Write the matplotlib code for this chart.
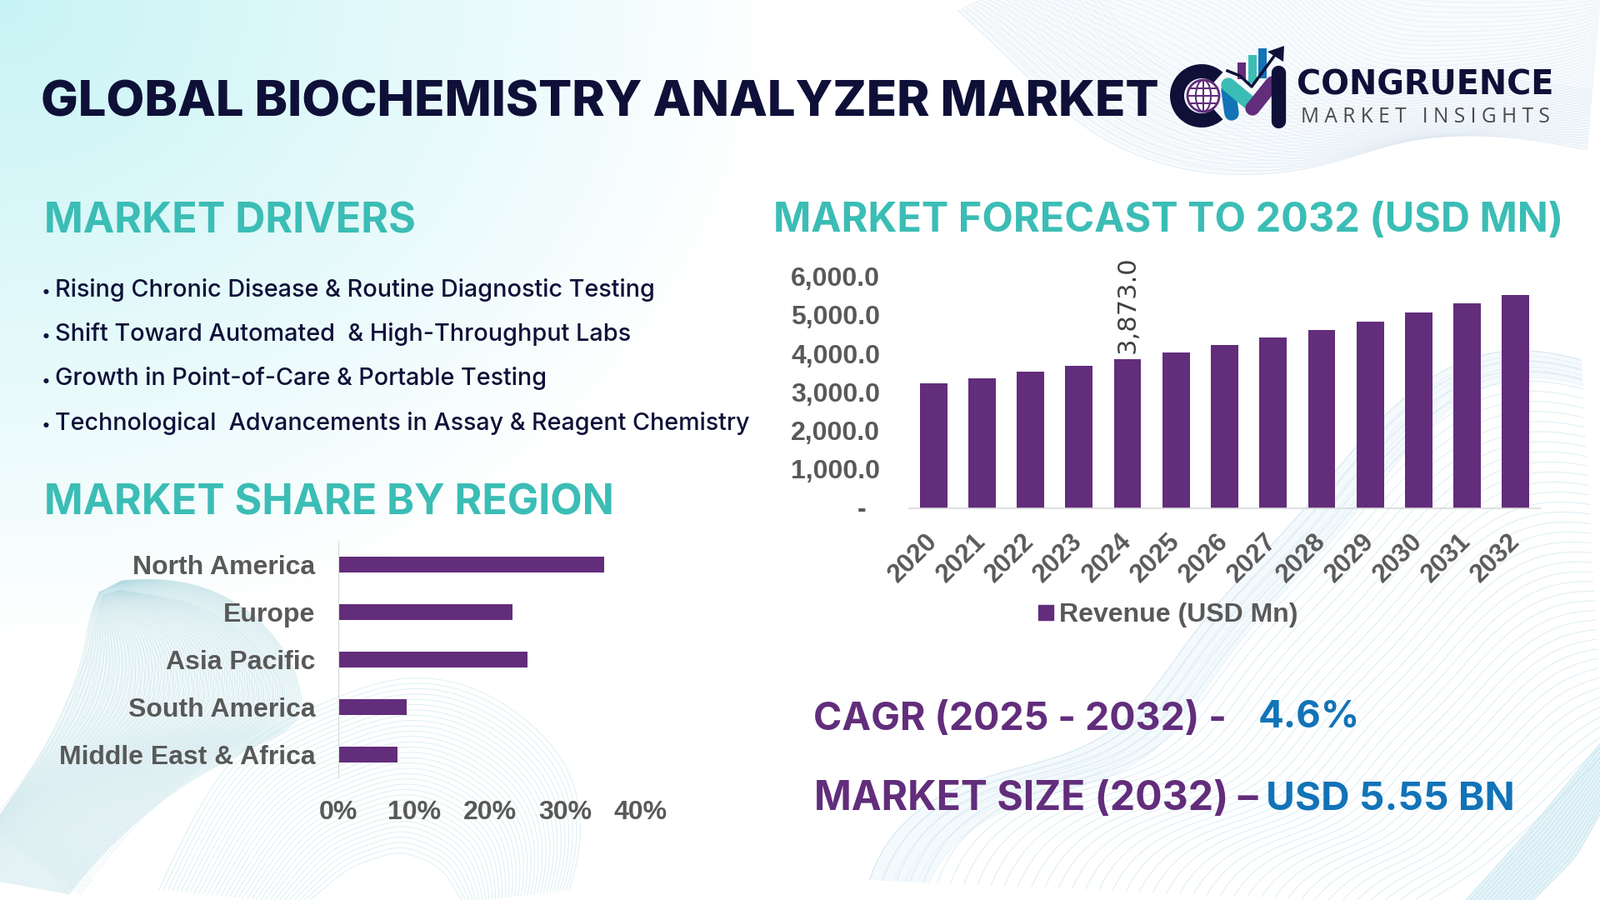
import numpy as np
import matplotlib
matplotlib.use('Agg')
from matplotlib import pyplot as plt
from matplotlib import font_manager as fm
from matplotlib.collections import LineCollection
from matplotlib.patches import Wedge, Circle, Ellipse, Polygon, Rectangle
from matplotlib.lines import Line2D
from matplotlib.transforms import ScaledTranslation

# chart data
years = ['2020', '2021', '2022', '2023', '2024', '2025', '2026',
         '2027', '2028', '2029', '2030', '2031', '2032']
revenue = [3247, 3377, 3550, 3701, 3873, 4048, 4242, 4437, 4632, 4848, 5087, 5325, 5550]
regions = ['North America', 'Europe', 'Asia Pacific', 'South America', 'Middle East & Africa']
shares = [35.2, 23.0, 25.0, 9.0, 7.8]
drivers = ['Rising Chronic Disease & Routine Diagnostic Testing',
           'Shift Toward Automated  & High-Throughput Labs',
           'Growth in Point-of-Care & Portable Testing',
           'Technological  Advancements in Assay & Reagent Chemistry']

PURPLE = '#622d7b'
TEAL = '#3bbdb5'
NAVY = '#0e1038'
BLUE = '#1273b7'
GREY = '#595959'
HEAD_FONT = ['Inter', 'DejaVu Sans']
BAR_FONT = 'Liberation Sans'

W, H = 1920, 1080
fig = plt.figure(figsize=(19.2, 10.8), dpi=100, facecolor='white')
bg = fig.add_axes([0, 0, 1, 1], zorder=0)
bg.set_xlim(0, W)
bg.set_ylim(H, 0)
bg.axis('off')


# background ------------------------------------------------------
yy, xx = np.mgrid[0:H:270j, 0:W:480j]
t = np.clip(1 - np.sqrt((xx / 930.0) ** 2 + (yy / 770.0) ** 2), 0, 1) ** 0.95
rgba = np.zeros((270, 480, 4))
rgba[..., :3] = matplotlib.colors.to_rgb('#c8f4f6')
rgba[..., 3] = t
bg.imshow(rgba, extent=(0, W, H, 0), aspect='auto', zorder=0, interpolation='bilinear')
bg.set_xlim(0, W)
bg.set_ylim(H, 0)


def smooth(pts, n=300, k=31):
    pts = np.array(pts, dtype=float)
    d = np.r_[0, np.cumsum(np.hypot(*np.diff(pts, axis=0).T))]
    s = np.linspace(0, d[-1], n)
    out = np.c_[np.interp(s, d, pts[:, 0]), np.interp(s, d, pts[:, 1])]
    for _ in range(3):
        pad = np.r_[np.repeat(out[:1], k, axis=0), out, np.repeat(out[-1:], k, axis=0)]
        out = np.c_[np.convolve(pad[:, 0], np.ones(k) / k, 'same'),
                    np.convolve(pad[:, 1], np.ones(k) / k, 'same')][k:-k]
    return out


def ribbon(a, b, count, color, alpha, lw=0.7, fill=None, fill_alpha=0.0, twist=0.0):
    a, b = smooth(a), smooth(b)
    if fill:
        bg.add_patch(Polygon(np.r_[a, b[::-1]], closed=True, fc=fill, ec='none',
                             alpha=fill_alpha, zorder=1))
    segs = []
    for s in np.linspace(0, 1, count):
        u = np.linspace(0, 1, len(a))
        # twist makes neighbouring lines bunch up along the ribbon
        w = np.clip(s + twist * np.sin(2 * np.pi * u) * s * (1 - s), 0, 1)[:, None]
        segs.append((1 - w) * a + w * b)
    bg.add_collection(LineCollection(segs, colors=color, alpha=alpha, linewidths=lw, zorder=2))


# top right wave
top_a = [(1131, -5), (1200, 60), (1309, 165), (1380, 195), (1450, 213), (1572, 207),
         (1695, 162), (1817, 162), (1930, 185)]
top_b = [(1380, -120), (1500, -80), (1640, -60), (1780, -60), (1940, -40)]
ribbon(top_a, top_b, 60, '#c3d5e7', 0.34, 0.6, fill='#e3edf6', fill_alpha=0.22, twist=0.9)
ribbon(top_a, [(1290, -30), (1400, 90), (1500, 120), (1620, 110), (1760, 90), (1930, 110)],
       24, '#cddcec', 0.28, 0.6)

# bottom left twisted ribbon
bl_a = [(125, 700), (108, 730), (100, 790), (70, 870), (30, 935), (0, 977), (-50, 1060)]
bl_b = [(125, 700), (190, 690), (260, 705), (320, 745), (360, 805), (373, 877), (345, 875),
        (214, 943), (122, 1022), (70, 1090)]
ribbon(bl_a, bl_b, 80, '#a8d5de', 0.36, 0.6, fill='#cfe8ee', fill_alpha=0.25, twist=0.6)
ribbon([(125, 705), (105, 790), (50, 905), (-20, 1000)],
       [(125, 705), (250, 725), (335, 800), (355, 860), (260, 900), (150, 1000), (85, 1090)],
       44, '#a8d5de', 0.28, 0.6)

# pale dome under the left bar chart
dome_a = [(180, 1090), (245, 953), (300, 880), (392, 843), (450, 815), (520, 805), (610, 840),
          (692, 919), (704, 1022), (673, 1090)]
dome_b = [(360, 1090), (420, 1040), (480, 1020), (530, 1040), (560, 1090)]
ribbon(dome_a, dome_b, 34, '#bfe3e9', 0.55, 0.7)

# big wave bottom right
br_a = [(1040, 1090), (1040, 1022), (1082, 970), (1174, 929), (1327, 901), (1389, 833), (1419, 767),
        (1500, 680), (1572, 609), (1650, 500), (1760, 415), (1850, 410), (1930, 445)]
br_b = [(1700, 1090), (1780, 1040), (1860, 970), (1930, 900)]
br_rim = [(1110, 1090), (1110, 1040), (1150, 990), (1240, 955), (1370, 930), (1430, 860), (1465, 790),
          (1540, 710), (1610, 640), (1690, 535), (1775, 450), (1850, 440), (1930, 475)]
ribbon(br_a, br_b, 42, '#b9dcec', 0.45, 0.8)
ribbon(br_a, br_rim, 6, '#c2e0ee', 0.30, 0.7, fill='#e4f2f8', fill_alpha=0.40)
ribbon([(1750, 1090), (1840, 990), (1930, 880)], [(1830, 1090), (1890, 1030), (1930, 960)],
       16, '#a8d8ea', 0.45, 0.8, fill='#d8eef6', fill_alpha=0.6)


# text, fitted to the width it has in the picture -------------------
def put(x0, x1, base, s, color, family=HEAD_FONT, weight='bold', size=30):
    txt = bg.text(x0, base, s, color=color, family=family, weight=weight, fontsize=size,
                  ha='left', va='baseline', zorder=5)
    w = txt.get_window_extent(fig.canvas.get_renderer()).width
    txt.set_fontsize(size * (x1 - x0) / w)
    return txt


put(49, 1393, 140, 'GLOBAL BIOCHEMISTRY ANALYZER MARKET', NAVY, weight='heavy')
put(53, 499, 279, 'MARKET DRIVERS', TEAL)
put(928, 1875, 278, 'MARKET FORECAST TO 2032 (USD MN)', TEAL)
put(53, 737, 617, 'MARKET SHARE BY REGION', TEAL)

driver_rows = [356, 409, 462.5, 516]
driver_ends = [787, 758, 656, 899]
for line, base, end in zip(drivers, driver_rows, driver_ends):
    bg.text(50, base, '•', color=NAVY, fontsize=14, family=HEAD_FONT, va='baseline', zorder=5)
    put(66, end, base, line, NAVY, weight='medium')

put(976, 1472, 876, 'CAGR (2025 - 2032) -', PURPLE)
put(1510, 1632, 873, '4.6%', BLUE)
put(977, 1509, 972, 'MARKET SIZE (2032) –', PURPLE)
put(1519, 1817, 971, 'USD 5.55 BN', BLUE)

# logo ------------------------------------------------------------
put(1556, 1865, 113, 'CONGRUENCE', NAVY, family=['DejaVu Sans'], weight='bold')
put(1561, 1861, 147, 'M A R K E T   I N S I G H T S', '#4a4a4a', family=['Open Sans', 'DejaVu Sans'],
    weight='normal', size=18)

bg.add_patch(Wedge((1442, 115), 38, 48, 312, width=17, fc=NAVY, ec='none', zorder=5))
bg.add_patch(Circle((1444, 115), 19, fc='white', ec=PURPLE, lw=2, zorder=6))
bg.add_patch(Ellipse((1444, 115), 18, 38, fc='none', ec=PURPLE, lw=1.5, zorder=6))
for dy in (-9, 0, 9):
    half = np.sqrt(19 ** 2 - dy ** 2)
    bg.plot([1444 - half, 1444 + half], [115 + dy, 115 + dy], color=PURPLE, lw=1.5, zorder=6)
bg.plot([1444, 1444], [96, 134], color=PURPLE, lw=1.5, zorder=6)

bg.add_patch(Rectangle((1485, 75), 10, 20, fc=PURPLE, ec='none', zorder=6))
bg.add_patch(Rectangle((1498, 66), 9.5, 34, fc=TEAL, ec='none', zorder=6))
bg.add_patch(Rectangle((1509.5, 58), 10, 36, fc=BLUE, ec='none', zorder=6))
bg.plot([1474, 1478], [108, 136], color=BLUE, lw=12.5, solid_capstyle='round', zorder=6)
bg.plot([1474, 1498], [102, 122], color=TEAL, lw=12.5, solid_capstyle='round', zorder=7)
bg.plot([1503, 1527], [130, 100], color=PURPLE, lw=12.5, solid_capstyle='round', zorder=7)
bg.plot([1534, 1534], [87, 145], color=NAVY, lw=12.5, solid_capstyle='round', zorder=7)
bg.plot([1473, 1488, 1502, 1530], [85, 91, 104, 66], color=NAVY, lw=2.5, zorder=8)
bg.add_patch(Polygon([(1541, 55), (1521, 62), (1540, 74)], fc=NAVY, ec='none', zorder=8))

# revenue chart ---------------------------------------------------
ax = fig.add_axes([1091 / W, 1 - 610 / H, 757 / W, 277 / H], zorder=2)
ax.patch.set_alpha(0)
ax.bar(years, revenue, width=0.565, color=PURPLE, label='Revenue (USD Mn)')
ax.set_xlim(-0.5, 12.5)
ax.set_ylim(0, 6000)
ax.set_yticks(range(0, 6001, 1000))
ax.set_yticklabels(['-'] + ['{:,.1f}'.format(v) for v in range(1000, 6001, 1000)])
for side in ('top', 'right', 'left'):
    ax.spines[side].set_visible(False)
ax.spines['bottom'].set_color('#d9d9d9')
ax.spines['bottom'].set_linewidth(1.2)
ax.tick_params(axis='both', length=0, labelcolor=GREY)
ax.tick_params(axis='y', pad=25)
ax.tick_params(axis='x', pad=25)
for lab in ax.get_yticklabels():
    lab.set(fontfamily=BAR_FONT, fontweight='bold', fontsize=23)
    lab.set_transform(lab.get_transform() + ScaledTranslation(0, 0.012, fig.dpi_scale_trans))
ax.get_yticklabels()[0].set_transform(ax.get_yticklabels()[0].get_transform()
                                      + ScaledTranslation(-0.17, 0, fig.dpi_scale_trans))
for lab in ax.get_xticklabels():
    lab.set(fontfamily=BAR_FONT, fontweight='bold', fontsize=22.5, rotation=45,
            ha='right', va='center', rotation_mode='anchor')
ax.annotate('{:,.1f}'.format(revenue[4]), (4, revenue[4]), xytext=(0, 5), textcoords='offset points',
            rotation=90, ha='center', va='bottom', fontsize=22, color='#404040', family='DejaVu Sans')
handle = Line2D([], [], marker='s', ls='none', color=PURPLE, markersize=12.5)
ax.legend([handle], ['Revenue (USD Mn)'], loc='center', bbox_to_anchor=(1398 / W, 1 - 738 / H),
          bbox_transform=fig.transFigure, frameon=False, handletextpad=0.0, handlelength=1.0,
          prop=fm.FontProperties(family=BAR_FONT, weight='bold', size=23), labelcolor=GREY)

# region chart ----------------------------------------------------
ax2 = fig.add_axes([406 / W, 1 - 934 / H, 363 / W, 285 / H], zorder=2)
ax2.patch.set_alpha(0)
ax2.barh(regions, shares, height=0.35, color=PURPLE)
ax2.set_xlim(0, 40)
ax2.set_ylim(4.5, -0.5)
ax2.set_xticks(range(0, 41, 10))
ax2.set_xticklabels(['{}%'.format(v) for v in range(0, 41, 10)])
for side in ('top', 'right', 'bottom'):
    ax2.spines[side].set_visible(False)
ax2.spines['left'].set_color('#d9d9d9')
ax2.tick_params(axis='both', length=0, labelcolor=GREY)
ax2.tick_params(axis='y', pad=20)
ax2.tick_params(axis='x', pad=19)
for lab in ax2.get_xticklabels() + ax2.get_yticklabels():
    lab.set(fontfamily=BAR_FONT, fontweight='bold', fontsize=23)

fig.savefig('out.png', dpi=100)
